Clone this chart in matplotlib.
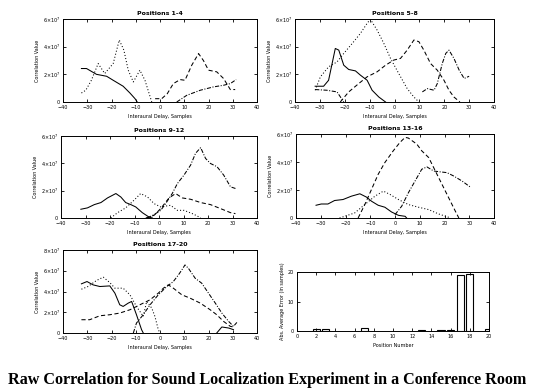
import numpy as np
from matplotlib import pyplot as plt

nan = np.nan

# ---- data (delay in samples, correlation in 1e7) ----
p1_solid_x = [-32.4, -30.3, -26.2, -22.0, -19.3, -15.2, -12.4, -10.3, -9.4]
p1_solid_y = [2.42, 2.42, 2.0, 1.86, 1.57, 1.14, 0.65, 0.24, 0.0]
p1_dot_x = [-32.4, -30.6, -28.3, -25.5, -22.8, -19.3, -16.8, -14.9, -13.1, -11.0, -8.3, -6.2, -3.4]
p1_dot_y = [0.65, 0.85, 1.57, 2.78, 2.06, 2.78, 4.48, 3.75, 2.3, 1.45, 2.3, 1.57, 0.0]
p1_dash_x = [-2.0, 0.7, 3.0, 5.5, 8.3, 10.3, 13.1, 15.9, 17.9, 20.0, 23.4, 26.2, 29.0, 31.0]
p1_dash_y = [0.24, 0.24, 0.6, 1.33, 1.62, 1.57, 2.66, 3.5, 3.0, 2.3, 2.18, 1.7, 0.9, 0.9]
p1_dd_x = [6.9, 11.0, 16.6, 22.0, 26.2, 29.0, 31.4]
p1_dd_y = [0.0, 0.48, 0.85, 1.09, 1.21, 1.33, 1.62]

p2_solid_x = [-31.9, -28.5, -26.5, -23.8, -22.4, -20.4, -18.4, -15.7, -13.7, -11.0, -9.0, -6.3, -3.6]
p2_solid_y = [1.14, 1.14, 1.57, 3.87, 3.75, 2.66, 2.35, 2.25, 1.94, 1.57, 0.85, 0.36, 0.0]
p2_dot_x = [-31.9, -29.8, -26.5, -23.1, -20.4, -16.4, -13.7, -11.0, -9.7, -7.0, -4.3, -1.6, 1.7, 5.1, 7.8, 9.8]
p2_dot_y = [0.85, 1.82, 2.54, 2.9, 3.51, 4.36, 4.96, 5.69, 5.98, 5.2, 4.24, 3.15, 2.06, 0.97, 0.36, 0.0]
p2_dash_x = [-21.8, -18.4, -14.4, -11.0, -7.0, -3.6, -0.3, 2.4, 5.1, 7.8, 9.8, 11.8, 14.5, 17.2, 19.9, 21.9, 23.9, 26.3]
p2_dash_y = [0.0, 0.73, 1.33, 1.82, 2.18, 2.66, 3.03, 3.15, 3.75, 4.48, 4.36, 3.75, 2.78, 2.3, 1.57, 0.85, 0.36, 0.0]
p2_dd_x = [-31.9, -27.2, -23.1, -20.4, nan, 11.2, 13.2, 15.9, 17.2, 19.2, 20.6, 21.9, 23.9, 26.0, 28.0, 30.0]
p2_dd_y = [0.9, 0.85, 0.73, 0.0, nan, 0.73, 0.97, 0.85, 1.33, 2.78, 3.51, 3.75, 3.15, 2.3, 1.7, 1.86]

p3_solid_x = [-31.9, -29.2, -26.4, -23.7, -21.0, -17.6, -15.6, -13.6, -11.5, -9.5, -6.8, -4.1, -2.7]
p3_solid_y = [0.64, 0.74, 0.98, 1.13, 1.47, 1.79, 1.54, 1.13, 0.98, 0.81, 0.39, 0.07, 0.0]
p3_dot_x = [-19.7, -16.9, -13.6, -10.2, -7.5, -4.7, -2.0, 0.7, 4.7, 7.5, 10.2, 13.6, 15.6, 17.0]
p3_dot_y = [0.0, 0.39, 0.74, 1.3, 1.79, 1.54, 1.05, 0.81, 0.93, 0.56, 0.56, 0.32, 0.15, 0.0]
p3_dash_x = [-5.4, -2.0, 0.7, 4.1, 6.8, 9.5, 12.9, 17.0, 21.0, 25.1, 29.2, 31.2]
p3_dash_y = [0.0, 0.2, 0.69, 1.47, 1.79, 1.47, 1.37, 1.13, 0.98, 0.69, 0.39, 0.32]
p3_dd_x = [-4.7, -2.0, 0.7, 2.7, 5.4, 7.5, 10.2, 12.9, 14.9, 17.0, 19.0, 21.0, 23.7, 26.4, 29.2, 31.2]
p3_dd_y = [0.0, 0.25, 0.56, 1.05, 1.79, 2.52, 3.14, 3.87, 4.73, 5.15, 4.36, 3.99, 3.75, 3.14, 2.28, 2.16]

p4_solid_x = [-31.9, -29.8, -27.1, -24.4, -21.0, -17.6, -14.2, -11.5, -9.5, -6.8, -4.1, -1.4, 1.4, 4.1, 4.7]
p4_solid_y = [0.91, 1.0, 1.0, 1.25, 1.32, 1.56, 1.73, 1.49, 1.2, 0.91, 0.77, 0.43, 0.19, 0.12, 0.0]
p4_dash_x = [-14.9, -12.2, -9.5, -6.8, -4.1, -0.7, 2.0, 4.1, 5.4, 8.8, 10.8, 13.6, 16.3, 19.0, 21.7, 24.4, 25.8]
p4_dash_y = [0.0, 0.96, 2.04, 3.12, 3.96, 4.8, 5.4, 5.76, 5.71, 5.28, 4.8, 4.32, 3.36, 2.4, 1.44, 0.48, 0.0]
p4_dot_x = [-22.4, -16.3, -12.2, -8.1, -4.7, -2.0, 1.4, 5.4, 9.5, 13.6, 17.6, 21.7]
p4_dot_y = [0.0, 0.36, 0.96, 1.56, 1.92, 1.68, 1.32, 0.96, 0.77, 0.6, 0.29, 0.05]
p4_dd_x = [0.0, 2.7, 5.4, 8.1, 10.8, 12.9, 15.6, 17.6, 21.0, 23.7, 27.1, 30.5]
p4_dd_y = [0.24, 0.84, 1.8, 2.64, 3.48, 3.65, 3.36, 3.31, 3.24, 3.0, 2.64, 2.2]

p5_solid_x = [-32.4, -30.1, -27.6, -24.8, -20.7, -18.6, -16.6, -15.2, -13.1, -11.7, -9.7, -7.6, -6.9,
              nan, 23.4, 25.5, 28.3, 30.3]
p5_solid_y = [4.74, 4.96, 4.64, 4.48, 4.54, 3.84, 2.72, 2.56, 2.88, 3.04, 1.76, 0.32, 0.0,
              nan, 0.0, 0.58, 0.48, 0.32]
p5_dot_x = [-32.4, -29.7, -26.2, -23.4, -20.7, -18.6, -15.2, -12.4, -9.7, -6.9, -5.5, -3.4, -2.1, -0.7, 0.0]
p5_dot_y = [4.22, 4.48, 5.06, 5.38, 4.86, 4.32, 4.32, 3.68, 2.56, 1.6, 3.04, 2.4, 1.6, 0.32, 0.0]
p5_dash_x = [-32.4, -29.0, -24.8, -20.7, -16.6, -12.4, -8.3, -4.1, -0.7, 1.4, 3.4, 5.5, 9.0, 12.4, 16.6,
             20.7, 23.4, 26.2, 29.0, 30.3]
p5_dash_y = [1.28, 1.28, 1.66, 1.76, 1.92, 2.24, 2.72, 3.2, 3.84, 4.32, 4.64, 4.32, 3.68, 3.36, 2.88,
             2.24, 1.76, 1.12, 0.64, 0.58]
p5_dd_x = [-11.0, -9.7, -6.9, -4.1, -0.7, 2.8, 5.5, 7.6, 9.0, 10.3, 11.7, 14.5, 17.2, 20.0, 22.8, 25.5,
           28.3, 30.3, 31.7]
p5_dd_y = [0.0, 0.96, 1.76, 2.72, 3.68, 4.48, 4.96, 5.6, 6.08, 6.56, 6.24, 5.28, 4.8, 3.84, 2.88, 1.92,
           1.12, 0.64, 1.02]

titles = ["Positions 1-4", "Positions 5-8", "Positions 9-12", "Positions 13-16", "Positions 17-20"]
ytops = [6, 6, 6, 6, 8]

positions = [2, 3, 7, 13, 15, 16, 17, 18, 20]
abs_error = [0.8, 0.8, 1.1, 0.2, 0.5, 0.2, 19.1, 19.4, 0.8]

panels = [
    (p1_solid_x, p1_solid_y, p1_dot_x, p1_dot_y, p1_dash_x, p1_dash_y, p1_dd_x, p1_dd_y),
    (p2_solid_x, p2_solid_y, p2_dot_x, p2_dot_y, p2_dash_x, p2_dash_y, p2_dd_x, p2_dd_y),
    (p3_solid_x, p3_solid_y, p3_dot_x, p3_dot_y, p3_dash_x, p3_dash_y, p3_dd_x, p3_dd_y),
    (p4_solid_x, p4_solid_y, p4_dot_x, p4_dot_y, p4_dash_x, p4_dash_y, p4_dd_x, p4_dd_y),
    (p5_solid_x, p5_solid_y, p5_dot_x, p5_dot_y, p5_dash_x, p5_dash_y, p5_dd_x, p5_dd_y),
]

# axes boxes in pixels: left, top, right, bottom
W, H = 534, 390
boxes = [(63, 19, 257, 102), (295, 19, 494, 102),
         (61, 136, 257, 218), (296, 134, 494, 218),
         (63, 250, 257, 333), (297, 272, 489, 331)]


def add_ax(fig, b):
    l, t, r, bt = b
    return fig.add_axes([l / W, 1 - bt / H, (r - l) / W, (bt - t) / H])


def style(ax):
    ax.tick_params(direction='in', top=True, right=True, labelsize=3.5,
                   length=2.5, width=0.6, pad=2)
    for s in ax.spines.values():
        s.set_linewidth(0.7)


fig = plt.figure(figsize=(W / 100, H / 100), dpi=100)
fig.patch.set_facecolor('white')

styles = ['-', (0, (1, 2)), (0, (4, 2.5)), (0, (4, 1.5, 1, 1.5))]

for i, data in enumerate(panels):
    ax = add_ax(fig, boxes[i])
    for k in range(4):
        ax.plot(np.array(data[2 * k]), np.array(data[2 * k + 1]), color='black',
                linewidth=0.75, linestyle=styles[k])
    ax.set_xlim(-40, 40)
    ax.set_ylim(0, ytops[i])
    ax.set_xticks(range(-40, 41, 10))
    yt = list(range(0, ytops[i] + 1, 2))
    ax.set_yticks(yt)
    ax.set_yticklabels(['0'] + [r'$%d{\times}10^7$' % v for v in yt[1:]])
    ax.set_title(titles[i], fontsize=4.5, fontweight='bold', pad=3)
    ax.set_xlabel('Interaural Delay, Samples', fontsize=3.5, labelpad=3)
    ax.set_ylabel('Correlation Value', fontsize=3.5, labelpad=2)
    style(ax)

ax = add_ax(fig, boxes[5])
ax.bar(positions, abs_error, width=0.75, facecolor='white', edgecolor='black', linewidth=0.8)
ax.set_xlim(0, 20)
ax.set_ylim(0, 20)
ax.set_xticks(range(0, 21, 2))
ax.set_yticks([0, 10, 20])
ax.set_xlabel('Position Number', fontsize=3.5, labelpad=3)
ax.set_ylabel('Abs. Average Error (in samples)', fontsize=3.5, labelpad=2)
style(ax)

fig.text(0.5, 1 - 380 / H, 'Raw Correlation for Sound Localization Experiment in a Conference Room',
         ha='center', va='center', fontsize=11.6, fontweight='bold', family='Liberation Serif')

plt.savefig('out.png', dpi=100)
plt.close()
